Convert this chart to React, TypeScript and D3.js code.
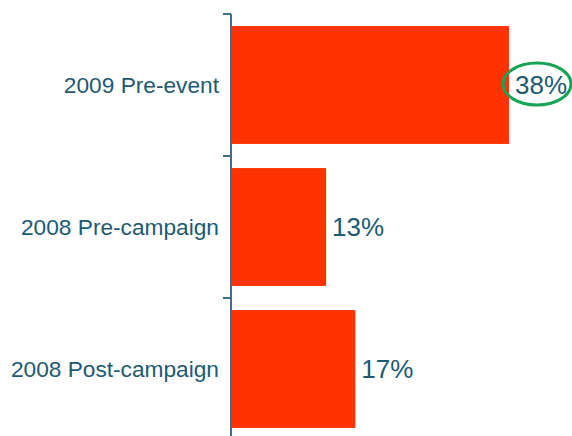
import * as d3 from 'd3'

const categories = ['2009 Pre-event', '2008 Pre-campaign', '2008 Post-campaign']
const values = [38, 13, 17]
const highlighted = '2009 Pre-event'

const TEXT = '#1d5a72'
const AXIS = '#3b7189'
const BAR = '#ff3300'

export default function App() {
  const width = 572
  const height = 436
  const x0 = 231

  const x = d3.scaleLinear().domain([0, 38]).range([x0, 509])
  const y = d3.scaleBand().domain(categories).range([14, 440]).paddingInner(0.17).paddingOuter(0.085)
  const step = y.step()
  const tickYs = categories.map(c => (y(c) ?? 0) - (y.paddingInner() * step) / 2)

  return (
    <svg width={width} height={height} style={{position: 'absolute', left: 0, top: 0}}
      fontFamily={'Liberation Sans, Arial, sans-serif'}>
      {categories.map((c, i) => (
        <g key={c}>
          <rect x={x0 + 1} y={y(c)} width={x(values[i]) - x0 - 1} height={y.bandwidth()} fill={BAR} />
          <text x={219} y={(y(c) ?? 0) + y.bandwidth() / 2} dy={'0.35em'} textAnchor={'end'}
            fontSize={22.7} fill={TEXT}>{c}</text>
          <text x={x(values[i]) + 6} y={(y(c) ?? 0) + y.bandwidth() / 2} dy={'0.36em'}
            fontSize={26} fill={TEXT}>{values[i]}%</text>
          {c === highlighted && (
            <ellipse cx={x(values[i]) + 28} cy={(y(c) ?? 0) + y.bandwidth() / 2 - 1} rx={34} ry={21}
              fill={'none'} stroke={'#16a552'} strokeWidth={3} />
          )}
        </g>
      ))}
      <line x1={x0} x2={x0} y1={14} y2={height} stroke={AXIS} strokeWidth={2} />
      {tickYs.map((t, i) => (
        <line key={i} x1={x0 - 8} x2={x0} y1={t} y2={t} stroke={AXIS} strokeWidth={2} />
      ))}
    </svg>
  )
}
